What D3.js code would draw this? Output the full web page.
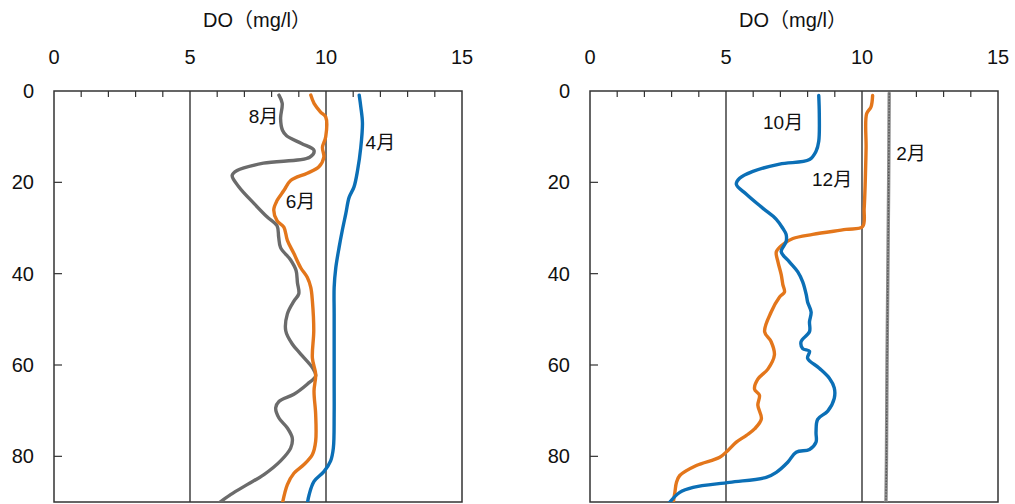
<!DOCTYPE html>
<html>
<head>
<meta charset="utf-8">
<script src="https://cdn.jsdelivr.net/npm/d3@7"></script>
<style>
  body { margin: 0; background: #fff; }
  svg text { font-family: "Liberation Sans", Arial, "Noto Sans CJK JP", sans-serif; fill: #111; }
</style>
</head>
<body>
<svg id="chart" width="1015" height="504"></svg>
<script>
// [depth (m), DO (mg/l)]
const apr = [[0.9,11.22],[3.5,11.28],[7,11.34],[12.3,11.28],[17.4,11.16],[21,11.03],[23.3,10.85],[26.8,10.73],[30.5,10.6],[34.3,10.48],[38.7,10.36],[43,10.3],[48.8,10.3],[63.5,10.3],[70.8,10.3],[78.2,10.27],[81,10.17],[83.3,9.93],[85.5,9.56],[88.4,9.38],[90.5,9.31]];
const jun = [[0.9,9.44],[2.7,9.56],[4.6,9.8],[5.7,9.99],[10,9.99],[12.3,9.87],[14.5,9.92],[16.6,9.74],[18,9.31],[19.6,8.7],[21.8,8.45],[24,8.2],[26,8.08],[28.4,8.2],[29.8,8.45],[32.7,8.58],[35.6,8.82],[38.7,9.07],[40.8,9.31],[43,9.44],[46,9.5],[52.5,9.55],[58.5,9.5],[62,9.62],[65.7,9.56],[70.8,9.62],[76.7,9.62],[79.6,9.5],[81.8,9.19],[83.7,8.82],[86.2,8.58],[90.5,8.39]];
const aug = [[0.9,8.27],[2.7,8.39],[6,8.33],[8.6,8.4],[9.8,8.55],[11.5,9.1],[13,9.56],[14.5,9.4],[15.8,7.7],[17.4,6.73],[18.5,6.55],[21,6.8],[24.6,7.35],[27.6,7.84],[29.5,8.2],[32,8.26],[34.3,8.33],[37,8.7],[39.3,8.9],[42,8.95],[44.4,9.0],[46,8.82],[48.8,8.58],[52.5,8.52],[55.4,8.76],[57.6,9.07],[60.6,9.5],[62.4,9.62],[64.2,9.31],[66.4,8.82],[68,8.27],[69.4,8.15],[71.6,8.27],[73.8,8.58],[76,8.76],[78.2,8.7],[81,8.33],[84,7.72],[86.2,7.1],[88.4,6.49],[90.5,6.0]];
const oct = [[1,8.41],[5,8.43],[11,8.41],[13.2,8.31],[15,8.07],[16,6.97],[17.6,5.99],[19.1,5.5],[20.4,5.38],[22.6,5.75],[25.7,6.36],[28.1,6.85],[30.1,7.09],[31.4,7.21],[33,7.21],[35.2,7.03],[37.4,7.33],[39.6,7.64],[41.8,7.82],[44.6,7.95],[46.2,8.0],[48.4,8.13],[50.5,8.07],[52.7,8.07],[54.9,7.76],[56.4,7.82],[57,8.07],[58.5,8.0],[60.7,8.43],[62.9,8.8],[65,8.98],[67.3,8.98],[70.1,8.74],[71.9,8.37],[74.7,8.31],[76.9,8.31],[78.5,8.07],[79.1,7.58],[81.3,7.27],[83.5,6.85],[84.6,6.48],[85.7,5.13],[86.8,3.79],[87.9,3.3],[90.5,2.87]];
const dec = [[1,10.39],[3.5,10.33],[5,10.17],[12.5,10.15],[19.8,10.12],[25.7,10.08],[29.7,10.02],[30.3,9.41],[31.4,8.19],[32.3,7.46],[33.6,7.09],[35.2,6.85],[37.4,6.91],[40.2,7.03],[42.4,7.09],[44,7.15],[45.1,6.97],[48.4,6.66],[52.7,6.42],[54.9,6.66],[57.8,6.78],[60.9,6.54],[63.1,6.17],[65.3,6.05],[66.6,6.23],[68.8,6.17],[71.8,6.3],[74,6.05],[75.4,5.75],[76.9,5.38],[78.7,5.07],[80.2,4.77],[82,3.91],[84.2,3.3],[85.7,3.18],[87.9,3.12],[90.5,3.05]];
const feb = [[0.5,11.0],[20,10.98],[40,10.95],[60,10.92],[80,10.9],[90.5,10.88]];

const xTicks = [0, 5, 10, 15];
const yTicks = [0, 20, 40, 60, 80];
const axisTitle = "DO（mg/l）";

// each panel: series with colour, plus month labels placed at (DO, depth)
const panels = [
  {
    left: 54,
    series: [
      { data: aug, color: "#6b6b6b" },
      { data: jun, color: "#e3761b" },
      { data: apr, color: "#0b6fb6" }
    ],
    labels: [
      { text: "8月", x: 7.7, y: 6.9 },
      { text: "4月", x: 12.0, y: 12.6 },
      { text: "6月", x: 9.06, y: 25.7 }
    ]
  },
  {
    left: 590,
    series: [
      { data: feb, color: "#8e8e8e", grain: true },
      { data: dec, color: "#e3761b" },
      { data: oct, color: "#0b6fb6" }
    ],
    labels: [
      { text: "10月", x: 7.1, y: 8.3 },
      { text: "12月", x: 8.9, y: 20.7 },
      { text: "2月", x: 11.8, y: 15.1 }
    ]
  }
];

const svg = d3.select("#chart");
const plotTop = 91, plotBottom = 502, plotW = 408;

panels.forEach((p, pi) => {
  const x = d3.scaleLinear().domain([0, 15]).range([p.left, p.left + plotW]);
  const y = d3.scaleLinear().domain([0, 90]).range([plotTop, plotBottom]);
  const g = svg.append("g");

  // axis title
  g.append("text")
    .attr("x", x(7.5) - 1)
    .attr("y", 27)
    .attr("text-anchor", "middle")
    .style("font-size", "20px")
    .text(axisTitle);

  // top tick labels
  g.selectAll(".xl").data(xTicks).join("text")
    .attr("x", d => x(d))
    .attr("y", 64)
    .attr("text-anchor", "middle")
    .style("font-size", "20px")
    .text(d => d);

  // left tick labels
  g.selectAll(".yl").data(yTicks).join("text")
    .attr("x", p.left - 20)
    .attr("y", d => y(d) + 7)
    .attr("text-anchor", "end")
    .style("font-size", "20px")
    .text(d => d);

  // minor ticks along top, every 1 mg/l
  g.selectAll(".mt").data(d3.range(1, 15).filter(d => d % 5 !== 0)).join("line")
    .attr("x1", d => x(d)).attr("x2", d => x(d))
    .attr("y1", plotTop).attr("y2", plotTop + 6)
    .attr("stroke", "#333").attr("stroke-width", 1.2);

  // left ticks
  g.selectAll(".lt").data(yTicks.slice(1)).join("line")
    .attr("x1", p.left).attr("x2", p.left + 8)
    .attr("y1", d => y(d)).attr("y2", d => y(d))
    .attr("stroke", "#333").attr("stroke-width", 1.2);

  // vertical lines at 5 and 10
  g.selectAll(".vg").data([5, 10]).join("line")
    .attr("x1", d => x(d)).attr("x2", d => x(d))
    .attr("y1", plotTop).attr("y2", plotBottom)
    .attr("stroke", "#222").attr("stroke-width", 1.3);

  // frame
  g.append("rect")
    .attr("x", p.left).attr("y", plotTop)
    .attr("width", plotW).attr("height", plotBottom - plotTop)
    .attr("fill", "none")
    .attr("stroke", "#333").attr("stroke-width", 1.5);

  const clipId = "clip" + pi;
  svg.append("clipPath").attr("id", clipId)
    .append("rect")
    .attr("x", p.left).attr("y", plotTop)
    .attr("width", plotW).attr("height", plotBottom - plotTop);

  const line = d3.line()
    .curve(d3.curveCatmullRom.alpha(0.5))
    .x(d => x(d[1]))
    .y(d => y(d[0]));

  const lines = g.append("g").attr("clip-path", `url(#${clipId})`);
  p.series.forEach(s => {
    lines.append("path")
      .datum(s.data)
      .attr("fill", "none")
      .attr("stroke", s.color)
      .attr("stroke-width", 3.4)
      .attr("stroke-linejoin", "round")
      .attr("stroke-linecap", "round")
      .attr("d", line);
    if (s.grain) {
      lines.append("path")
        .datum(s.data)
        .attr("fill", "none")
        .attr("stroke", "#555")
        .attr("stroke-width", 1.4)
        .attr("stroke-dasharray", "1.5,1.5")
        .attr("d", line);
    }
  });

  g.selectAll(".ml").data(p.labels).join("text")
    .attr("x", d => x(d.x))
    .attr("y", d => y(d.y))
    .attr("text-anchor", "middle")
    .style("font-size", "19px")
    .text(d => d.text);
});
</script>
</body>
</html>
